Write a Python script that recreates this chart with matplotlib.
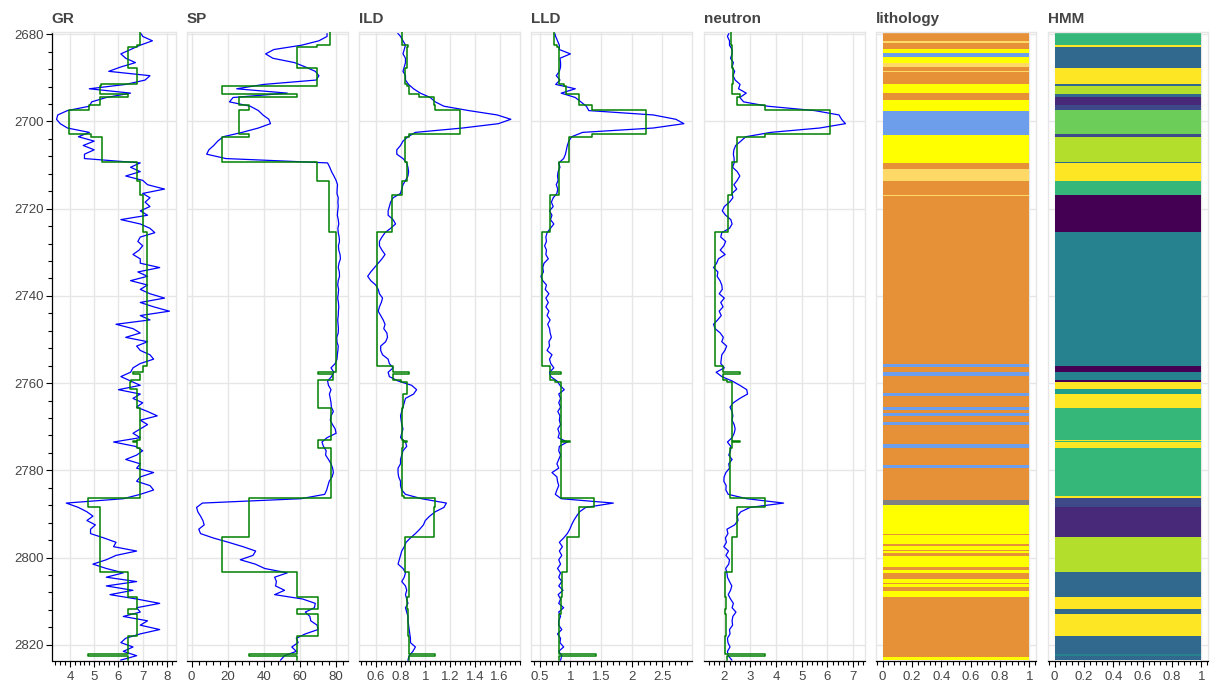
import matplotlib
matplotlib.use("Agg")
import matplotlib.pyplot as plt
import matplotlib.ticker as mticker
import matplotlib.transforms as mtransforms
import numpy as np

plt.rcParams["font.family"] = ["Liberation Sans", "DejaVu Sans"]

# ---- log curves, sampled every 1 m from 2679.5 m ----
depth = np.arange(2679.5, 2824.0, 1.0)

gr = [6.9, 7.0, 7.4, 6.9, 6.5, 6.1, 6.3, 6.7, 6.1, 5.6,
      7.3, 7.1, 6.3, 4.8, 6.5, 5.5, 4.9, 4.8, 3.9, 3.5,
      3.45, 3.6, 3.9, 4.8, 4.35, 5.0, 4.55, 5.0, 4.6, 4.6,
      6.9, 6.5, 6.9, 6.3, 7.0, 7.2, 7.9, 7.0, 7.3, 7.1,
      7.3, 6.9, 7.2, 6.1, 6.9, 7.3, 7.5, 6.9, 6.8, 7.0,
      6.85, 6.6, 6.9, 6.9, 7.7, 6.8, 7.2, 6.5, 7.2, 6.9,
      7.3, 7.9, 6.9, 7.45, 8.1, 6.9, 7.3, 5.9, 6.6, 6.9,
      6.3, 7.2, 6.75, 6.9, 7.3, 7.45, 6.9, 6.6, 6.5, 6.1,
      6.5, 6.9, 6.0, 6.9, 6.6, 7.0, 6.75, 7.2, 7.6, 6.9,
      7.2, 6.9, 6.6, 6.9, 5.8, 6.7, 7.0, 6.75, 6.3, 6.9,
      6.75, 7.45, 6.9, 6.75, 7.3, 7.45, 6.9, 6.2, 3.85, 4.35,
      4.7, 4.95, 4.7, 5.05, 4.85, 4.85, 5.4, 5.9, 5.8, 6.75,
      5.9, 5.5, 4.95, 5.5, 6.2, 5.5, 6.75, 5.5, 6.6, 5.65,
      6.75, 7.7, 6.75, 6.9, 6.2, 7.2, 6.9, 7.7, 6.9, 6.3,
      6.1, 6.6, 6.2, 6.75, 6.1]

sp = [75, 75, 70.5, 61, 45.6, 41, 45, 57, 63, 68.5,
      70.5, 69, 40, 25, 53, 23, 21, 32.5, 37, 39.5,
      42.8, 43.7, 37, 28, 17.5, 14.5, 12.3, 9.6, 8.4, 19,
      75.3, 76.5, 77.5, 78.8, 80, 80.8, 80.6, 80.5, 81.2, 81,
      81.2, 80.9, 80.7, 81.2, 81.5, 81, 81.2, 81.7, 81.9, 81.3,
      81.5, 82.2, 82.4, 81.6, 81.2, 81.8, 81.9, 81.2, 80.9, 81.4,
      81.2, 80.9, 81.3, 81.5, 81.3, 81.2, 80.9, 81.1, 81.3, 81.2,
      80.4, 80.5, 81.2, 81.0, 80.7, 80.5, 79.5, 77.2, 78.8, 77.5,
      75.3, 75.8, 77.2, 76.3, 76.8, 77.2, 77.4, 78.5, 77.2, 76.8,
      78, 79.5, 80, 75, 72.2, 73, 74.5, 74.2, 75.8, 77.2,
      78.1, 78.5, 77.8, 76.2, 75.5, 74.8, 73.7, 60.5, 6, 2.8,
      3.5, 5, 6.3, 7, 4, 5, 12, 20.5, 28.5, 35.5,
      34, 27, 35.3, 40.5, 53, 46, 47, 46.5, 51.5, 46,
      61.5, 68.5, 68, 63, 65.5, 66, 69.5, 70, 63, 58,
      59, 55.5, 58, 51.5, 49.3]

ild = [0.77, 0.80, 0.82, 0.84, 0.83, 0.82, 0.84, 0.84, 0.83, 0.82,
       0.84, 0.84, 0.865, 0.905, 0.96, 1.04, 1.08, 1.15, 1.35, 1.58,
       1.69, 1.59, 1.30, 0.92, 0.86, 0.82, 0.80, 0.77, 0.77, 0.82,
       0.85, 0.86, 0.865, 0.86, 0.84, 0.82, 0.81, 0.80, 0.74, 0.72,
       0.71, 0.70, 0.70, 0.74, 0.76, 0.72, 0.675, 0.65, 0.63, 0.63,
       0.65, 0.675, 0.65, 0.62, 0.59, 0.56, 0.535, 0.56, 0.60, 0.62,
       0.63, 0.655, 0.645, 0.63, 0.62, 0.64, 0.66, 0.675, 0.665, 0.69,
       0.695, 0.68, 0.64, 0.64, 0.655, 0.70, 0.71, 0.74, 0.70, 0.71,
       0.78, 0.89, 0.93, 0.905, 0.84, 0.83, 0.82, 0.81, 0.80, 0.805,
       0.81, 0.82, 0.81, 0.80, 0.84, 0.85, 0.82, 0.81, 0.80, 0.80,
       0.78, 0.78, 0.785, 0.80, 0.80, 0.81, 0.84, 0.97, 1.17, 1.15,
       1.08, 1.035, 1.0, 0.985, 0.955, 0.92, 0.88, 0.845, 0.83, 0.81,
       0.80, 0.79, 0.78, 0.82, 0.84, 0.83, 0.81, 0.84, 0.85, 0.84,
       0.85, 0.86, 0.84, 0.85, 0.86, 0.86, 0.865, 0.87, 0.875, 0.88,
       0.88, 0.92, 0.90, 0.87, 0.86]

lld = [0.74, 0.76, 0.79, 0.82, 0.82, 1.0, 0.83, 0.84, 0.84, 0.82,
       0.77, 0.83, 0.76, 1.08, 0.85, 1.08, 1.17, 1.26, 1.30, 2.35,
       2.72, 2.85, 2.35, 1.2, 1.02, 0.975, 0.95, 0.935, 0.92, 0.89,
       0.81, 0.83, 0.80, 0.79, 0.80, 0.77, 0.795, 0.78, 0.72, 0.69,
       0.72, 0.66, 0.70, 0.675, 0.73, 0.675, 0.62, 0.60, 0.61, 0.58,
       0.61, 0.60, 0.64, 0.57, 0.55, 0.56, 0.52, 0.55, 0.61, 0.59,
       0.65, 0.60, 0.64, 0.60, 0.65, 0.62, 0.67, 0.63, 0.66, 0.67,
       0.69, 0.65, 0.66, 0.62, 0.70, 0.66, 0.68, 0.73, 0.66, 0.68,
       0.78, 0.83, 0.90, 0.81, 0.84, 0.81, 0.84, 0.795, 0.83, 0.82,
       0.84, 0.795, 0.82, 0.80, 0.95, 0.82, 0.81, 0.84, 0.81, 0.78,
       0.81, 0.70, 0.78, 0.79, 0.81, 0.78, 0.755, 0.85, 1.70, 1.25,
       1.15, 1.10, 1.055, 1.02, 0.99, 0.95, 0.89, 0.82, 0.87, 0.82,
       0.86, 0.81, 0.84, 0.79, 0.84, 0.81, 0.86, 0.81, 0.88, 0.80,
       0.84, 0.81, 0.89, 0.81, 0.84, 0.81, 0.81, 0.86, 0.79, 0.84,
       0.83, 0.89, 0.81, 0.86, 0.84]

neutron = [2.2, 2.12, 2.2, 2.2, 2.3, 2.3, 2.24, 2.35, 2.3, 2.4,
           2.34, 2.42, 2.61, 2.55, 2.85, 2.6, 2.75, 3.68, 5.5, 6.45,
           6.55, 6.7, 5.7, 3.8, 2.83, 2.64, 2.44, 2.37, 2.35, 2.38,
           2.38, 2.32, 2.5, 2.6, 2.5, 2.37, 2.48, 2.3, 2.33, 2.2,
           2.0, 1.92, 2.05, 2.25, 2.3, 2.2, 1.9, 1.86, 2.05, 1.98,
           1.84, 2.03, 1.77, 1.70, 1.58, 1.75, 1.72, 1.83, 1.9, 1.92,
           1.8, 2.0, 1.86, 1.95, 1.8, 1.88, 1.74, 1.58, 1.64, 1.84,
           1.96, 1.9, 2.09, 2.02, 1.9, 1.88, 1.86, 2.0, 1.68, 1.9,
           2.3, 2.6, 2.87, 2.9, 2.6, 2.35, 2.22, 2.3, 2.33, 2.3,
           2.38, 2.42, 2.38, 2.3, 2.12, 2.25, 2.24, 2.17, 2.3, 2.17,
           2.2, 2.06, 1.99, 1.98, 2.07, 2.06, 2.15, 2.87, 4.3, 3.0,
           2.64, 2.5, 2.53, 2.4, 2.1, 2.14, 2.04, 2.08, 1.98, 2.16,
           2.06, 2.2, 2.17, 2.05, 2.1, 2.12, 2.2, 2.29, 2.24, 2.15,
           2.24, 2.35, 2.3, 2.45, 2.33, 2.3, 2.32, 2.2, 2.22, 2.12,
           2.14, 2.22, 2.12, 2.15, 2.29]

# ---- HMM segmentation: boundaries, state, and blocked value per segment ----
seg_bounds = [2679.5, 2682.5, 2683.0, 2687.8, 2691.5, 2691.9, 2693.7, 2694.5, 2696.2, 2697.4,
              2702.9, 2703.6, 2709.2, 2709.6, 2713.7, 2716.8, 2725.3, 2756.0, 2757.4, 2758.0,
              2759.2, 2759.7, 2761.4, 2762.6, 2765.6, 2773.0, 2773.3, 2773.5, 2774.8, 2785.9,
              2786.4, 2788.4, 2795.3, 2803.3, 2809.1, 2811.9, 2813.0, 2818.0, 2822.2, 2822.6,
              2823.6]
hmm_state = [6, 9, 3, 9, 3, 8, 3, 1, 2, 7,
             2, 8, 3, 9, 6, 0, 4, 0, 4, 4,
             0, 9, 5, 9, 6, 9, 6, 9, 6, 9,
             2, 1, 8, 3, 9, 3, 9, 3, 4, 3]

gr_block = [6.9, 6.76, 6.41, 6.76, 5.3, 5.24, 6.4, 5.24, 4.8, 3.97,
            4.85, 5.31, 6.76, 6.76, 6.9, 7.03, 7.17, 7.03, 6.6, 6.9,
            6.5, 6.48, 6.76, 6.76, 6.9, 6.76, 6.6, 6.76, 6.9, 6.9,
            4.76, 5.24, 5.24, 6.41, 6.76, 6.41, 6.76, 6.41, 4.76, 6.41]
sp_block = [76.8, 69.7, 58.2, 69.7, 69.7, 16.8, 58.2, 26.1, 31.6, 26.1,
            31.6, 16.8, 69.7, 69.7, 76.2, 76.2, 80.0, 80.0, 69.8, 78.1,
            69.8, 69.8, 69.8, 69.8, 77.2, 69.8, 69.8, 69.8, 77.2, 77.2,
            31.6, 31.6, 16.7, 58.6, 69.8, 58.6, 69.8, 58.6, 31.6, 58.6]
ild_block = [0.81, 0.86, 0.855, 0.84, 0.85, 0.87, 0.95, 1.07, 1.08, 1.28,
             0.87, 0.84, 0.85, 0.85, 0.81, 0.735, 0.608, 0.74, 0.87, 0.74,
             0.80, 0.855, 0.85, 0.82, 0.81, 0.82, 0.85, 0.82, 0.81, 0.83,
             1.08, 1.07, 0.84, 0.87, 0.855, 0.86, 0.86, 0.87, 1.08, 0.87]
lld_block = [0.74, 0.78, 0.81, 0.81, 0.9, 0.935, 1.14, 1.14, 1.36, 2.23,
             1.36, 0.97, 0.81, 0.81, 0.81, 0.675, 0.54, 0.675, 0.84, 0.66,
             0.75, 0.84, 0.84, 0.84, 0.84, 0.84, 1.0, 0.84, 0.84, 0.84,
             1.38, 1.14, 0.95, 0.865, 0.84, 0.84, 0.81, 0.81, 1.41, 0.82]
neutron_block = [2.25, 2.3, 2.3, 2.35, 2.3, 2.29, 2.6, 2.48, 3.58, 6.12,
                 3.58, 2.48, 2.29, 2.29, 2.29, 2.16, 1.64, 1.96, 2.61, 1.96,
                 2.1, 2.29, 2.29, 2.29, 2.29, 2.29, 2.61, 2.29, 2.22, 2.22,
                 3.58, 2.48, 2.29, 2.03, 2.08, 2.03, 2.08, 2.03, 3.58, 2.1]

# ---- lithology intervals ----
lith_bounds = [2679.5, 2681.5, 2681.9, 2683.4, 2684.4, 2685.3, 2686.5, 2687.4, 2688.4, 2688.6,
               2691.5, 2693.5, 2695.1, 2697.6, 2703.1, 2709.5, 2711.0, 2713.7, 2716.8, 2717.0,
               2755.7, 2756.3, 2757.5, 2758.4, 2762.3, 2762.9, 2765.4, 2766.1, 2766.9, 2767.6,
               2768.9, 2769.7, 2774.0, 2774.8, 2778.7, 2779.4, 2786.7, 2787.9, 2794.5, 2794.9,
               2797.0, 2797.4, 2798.3, 2798.5, 2799.0, 2799.6, 2802.2, 2802.8, 2803.6, 2804.9,
               2805.8, 2806.0, 2806.8, 2807.7, 2809.0, 2822.8, 2823.6]
lith_code = ["O", "L", "O", "Y", "B", "Y", "L", "O", "L",
             "O", "Y", "O", "Y", "B", "Y", "O", "L", "O", "L",
             "O", "B", "O", "B", "O", "B", "O", "B", "O", "B",
             "O", "B", "O", "B", "O", "B", "O", "G", "Y", "O",
             "Y", "O", "Y", "O", "Y", "O", "Y", "O", "Y", "O",
             "Y", "O", "Y", "O", "Y", "O", "Y"]

LITH_COLORS = {"O": "#E69138", "Y": "#FFFF00", "B": "#6D9EEB", "L": "#FFD966", "G": "#808080"}
VIRIDIS10 = ["#440154", "#482878", "#3E4989", "#31688E", "#26828E",
             "#1F9E89", "#35B779", "#6DCD59", "#B4DE2C", "#FDE725"]

W, H = 1214, 686
TOP_PX, BOT_PX = 32.3, 660.5
YLIM = (2823.6, 2679.55)
GRID = "#e6e6e6"
TXT = "#444444"


def fmt(v, pos):
    return f"{round(v, 6):g}"


def blocked(vals):
    xs, ys = [], []
    for i, v in enumerate(vals):
        xs += [v, v]
        ys += [seg_bounds[i], seg_bounds[i + 1]]
    return xs, ys


def make_track(fig, x0, x1, title, xlim, major, show_y=False):
    ax = fig.add_axes([x0 / W, 1 - BOT_PX / H, (x1 - x0) / W, (BOT_PX - TOP_PX) / H])
    ax.set_xlim(*xlim)
    ax.set_ylim(*YLIM)
    ax.xaxis.set_major_locator(mticker.MultipleLocator(major))
    ax.xaxis.set_minor_locator(mticker.MultipleLocator(major / 5))
    ax.xaxis.set_major_formatter(mticker.FuncFormatter(fmt))
    ax.yaxis.set_major_locator(mticker.MultipleLocator(20))
    ax.yaxis.set_minor_locator(mticker.MultipleLocator(4))
    ax.grid(True, which="major", color=GRID, linewidth=1.0)
    ax.set_axisbelow(True)
    for s in ("top", "right", "left"):
        ax.spines[s].set_color(GRID)
        ax.spines[s].set_linewidth(1.0)
    ax.spines["bottom"].set_color("black")
    ax.spines["bottom"].set_linewidth(0.9)
    ax.tick_params(axis="x", which="major", direction="out", length=4.3, width=0.8,
                   color="black", labelcolor=TXT, labelsize=9.5, pad=3)
    ax.tick_params(axis="x", which="minor", direction="out", length=2.9, width=0.8, color="black")
    if show_y:
        ax.spines["left"].set_color("black")
        ax.spines["left"].set_linewidth(0.9)
        ax.tick_params(axis="y", which="major", direction="out", length=4.3, width=0.8,
                       color="black", labelcolor=TXT, labelsize=9.5, pad=1.5)
        ax.tick_params(axis="y", which="minor", direction="out", length=2.9, width=0.8, color="black")
    else:
        ax.tick_params(axis="y", which="both", left=False, labelleft=False)
    off = mtransforms.offset_copy(ax.transAxes, fig=fig, x=0, y=7, units="points")
    ax.text(0, 1, title, transform=off, ha="left", va="baseline",
            fontsize=11, fontweight="bold", color=TXT)
    return ax


fig = plt.figure(figsize=(W / 100, H / 100), dpi=100)

logs = [
    ("GR", gr, gr_block, (51.7, 175.7), (3.25, 8.36), 1),
    ("SP", sp, sp_block, (187, 348), (-2.5, 86.6), 20),
    ("ILD", ild, ild_block, (359, 519.5), (0.465, 1.76), 0.2),
    ("LLD", lld, lld_block, (531, 691.5), (0.358, 2.974), 0.5),
    ("neutron", neutron, neutron_block, (704, 864.5), (1.21, 7.44), 1),
]

for i, (name, curve, block, (x0, x1), xlim, major) in enumerate(logs):
    ax = make_track(fig, x0, x1, name, xlim, major, show_y=(i == 0))
    ax.plot(curve, depth, color="#0000ff", linewidth=0.9, zorder=2)
    bx, by = blocked(block)
    ax.plot(bx, by, color="#008000", linewidth=1.1, zorder=3)

# lithology track
ax = make_track(fig, 876, 1036, "lithology", (-0.045, 1.045), 0.2)
tops = np.array(lith_bounds[:-1])
bots = np.array(lith_bounds[1:])
ax.barh((tops + bots) / 2, 1.0, height=bots - tops, left=0,
        color=[LITH_COLORS[c] for c in lith_code], linewidth=0, zorder=2)

# HMM track
ax = make_track(fig, 1048, 1208, "HMM", (-0.045, 1.045), 0.2)
tops = np.array(seg_bounds[:-1])
bots = np.array(seg_bounds[1:])
ax.barh((tops + bots) / 2, 1.0, height=bots - tops, left=0,
        color=[VIRIDIS10[s] for s in hmm_state], linewidth=0, zorder=2)

fig.savefig("out.png", dpi=100, facecolor="white")
